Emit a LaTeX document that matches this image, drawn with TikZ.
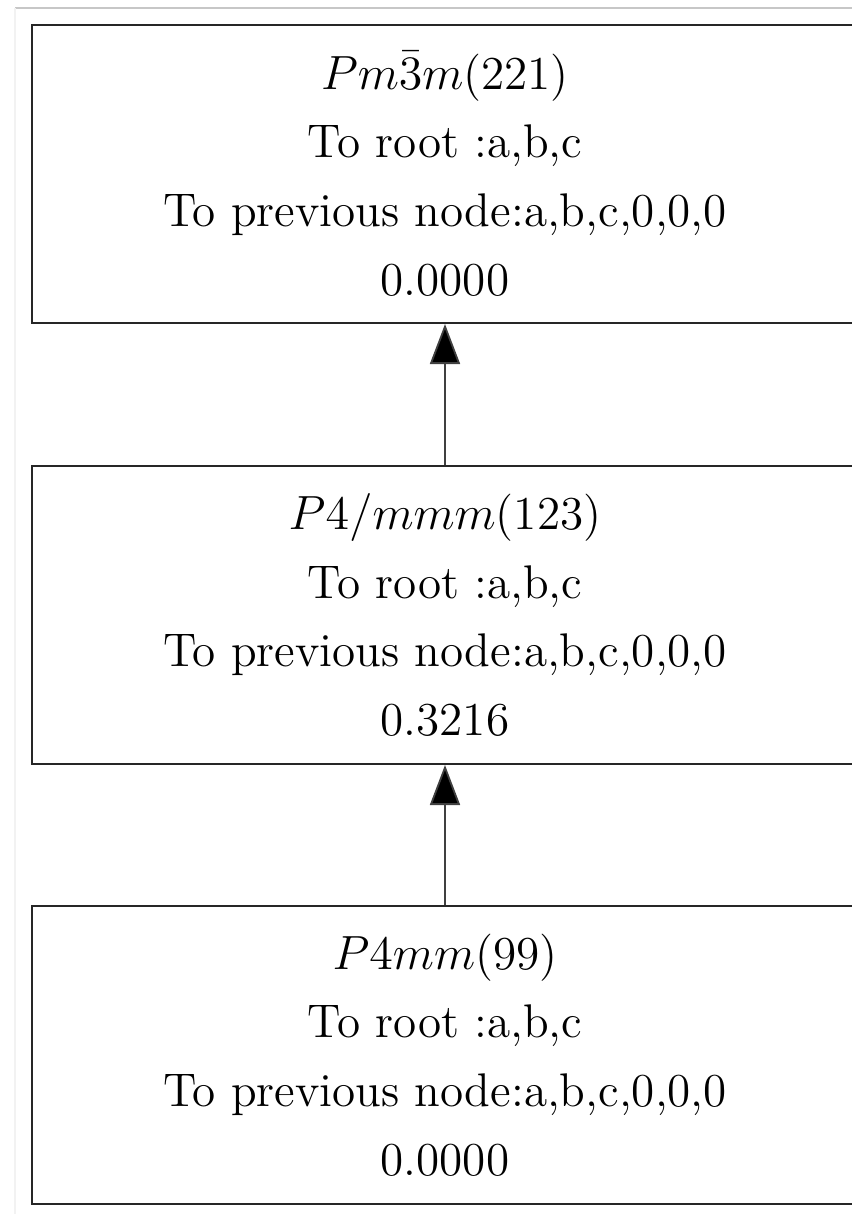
\documentclass[tikz,border=0pt]{standalone}
\usetikzlibrary{arrows.meta}
\begin{document}
\begin{tikzpicture}[x=1pt,y=1pt,
  groupbox/.style={draw=black!85, line width=0.5pt, rectangle, inner sep=0pt,
    minimum width=206.5pt, minimum height=74.5pt, align=center,
    font=\fontsize{11.8}{17.2}\selectfont},
  link/.style={draw=black!75, line width=0.45pt, -{Triangle[width=7.5pt,length=10pt,fill=black]}}]
  \useasboundingbox (0,0) rectangle (213,-303.5);
  % frame lines
  \draw[black!22, line width=0.3pt] (3.75,-2) -- (213,-2);
  \draw[black!5, line width=0.3pt] (3.75,-2) -- (3.75,-303.5);
  % subgroup chain
  \node[groupbox] (g221) at (111.25,-43.5)
    {$Pm\bar{3}m$(221)\\To root :a,b,c\\To previous node:a,b,c,0,0,0\\0.0000};
  \node[groupbox] (g123) at (111.25,-153.75)
    {$P4/mmm$(123)\\To root :a,b,c\\To previous node:a,b,c,0,0,0\\0.3216};
  \node[groupbox] (g99) at (111.25,-263.75)
    {$P4mm$(99)\\To root :a,b,c\\To previous node:a,b,c,0,0,0\\0.0000};
  \draw[link] (g123.north) -- (g221.south);
  \draw[link] (g99.north) -- (g123.south);
\end{tikzpicture}
\end{document}
